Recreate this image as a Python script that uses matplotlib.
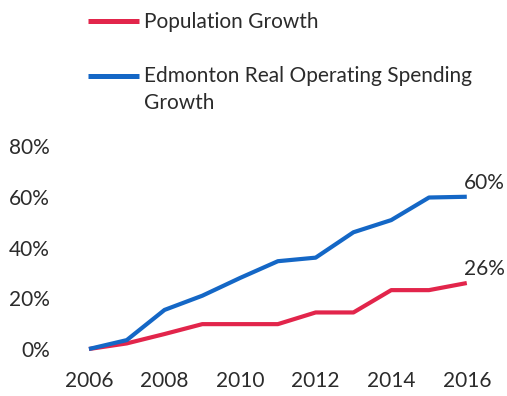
import matplotlib
matplotlib.use("Agg")
import matplotlib.pyplot as plt

years = [2006, 2007, 2008, 2009, 2010, 2011, 2012, 2013, 2014, 2015, 2016]
population_growth = [0, 2.2, 5.9, 9.8, 9.8, 9.8, 14.4, 14.4, 23.2, 23.2, 26]
spending_growth = [0, 3.5, 15.4, 21, 28, 34.6, 36, 46, 50.8, 59.7, 60]
y_ticks = [0, 20, 40, 60, 80]
x_ticks = [2006, 2008, 2010, 2012, 2014, 2016]

red = '#E2254B'
blue = '#1467C6'
text_color = '#2b2b2b'

plt.rcParams['font.family'] = ['Lato', 'DejaVu Sans']

fig = plt.figure(figsize=(5.07, 3.96), dpi=100)
ax = fig.add_axes([0.1233, 0.1187, 0.857, 0.5126])

ax.plot(years, population_growth, color=red, lw=3, label='Population Growth',
        clip_on=False, solid_capstyle='butt')
ax.plot(years, spending_growth, color=blue, lw=3,
        label='Edmonton Real Operating Spending\nGrowth',
        clip_on=False, solid_capstyle='butt')

# end-of-line value labels
for series in (spending_growth, population_growth):
    last = series[-1]
    ax.annotate(f'{last:.0f}%', (years[-1], last), xytext=(-2, 3),
                textcoords='offset points', ha='left', va='bottom',
                fontsize=15, color=text_color)

ax.set_xlim(2005.3, 2016.8)
ax.set_ylim(0, 80)
ax.set_xticks(x_ticks)
ax.set_yticks(y_ticks)
ax.set_yticklabels([f'{v}%' for v in y_ticks])
ax.tick_params(axis='both', length=0, labelsize=15, labelcolor=text_color)
ax.tick_params(axis='y', pad=9)
ax.tick_params(axis='x', pad=16)
for spine in ax.spines.values():
    spine.set_visible(False)

leg = ax.legend(loc='upper left', bbox_to_anchor=(0.144, 1.006),
                bbox_transform=fig.transFigure, frameon=False, fontsize=15,
                handlelength=2.45, handletextpad=0.25, labelspacing=1.6,
                borderpad=0.2)
for t in leg.get_texts():
    t.set_color(text_color)
    t.set_linespacing(1.45)
handles = leg.get_lines()
for h in handles:
    h.set_linewidth(3.6)
# keep the two-line entry's swatch level with its first line
two_line = handles[1]
two_line.set_ydata([y + 10 for y in two_line.get_ydata()])

fig.savefig('out.png', dpi=100)
